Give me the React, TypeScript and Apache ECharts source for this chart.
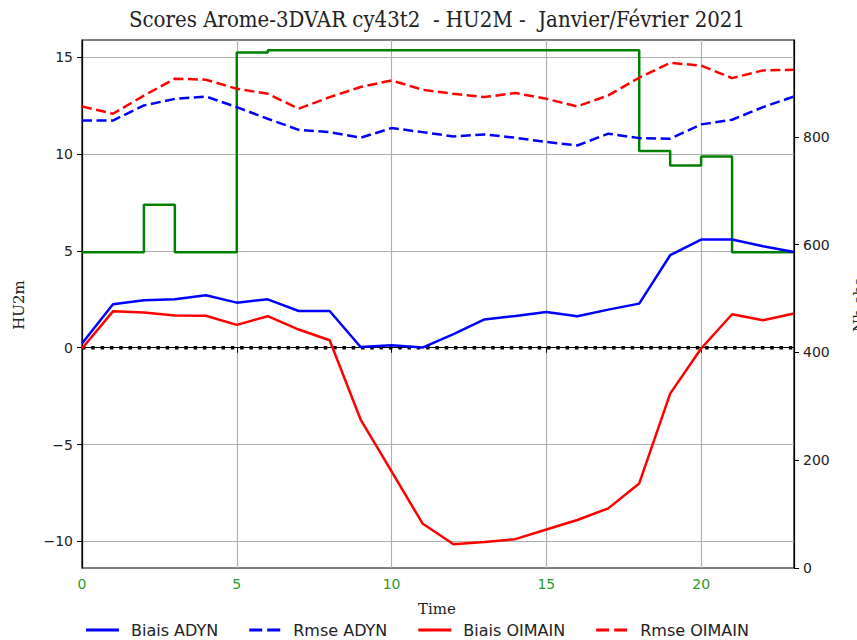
import React, { useEffect, useRef } from "react";
import * as echarts from "echarts";

const times = Array.from({ length: 24 }, (_, i) => i);
const biaisAdyn = [0.22, 2.25, 2.45, 2.5, 2.71, 2.33, 2.5, 1.9, 1.9, 0.04, 0.13, 0.01, 0.7, 1.46, 1.64, 1.85, 1.63, 1.97, 2.28, 4.78, 5.59, 5.59, 5.24, 4.95];
const rmseAdyn = [11.74, 11.74, 12.52, 12.86, 12.98, 12.43, 11.83, 11.26, 11.14, 10.85, 11.35, 11.14, 10.92, 11.02, 10.85, 10.63, 10.45, 11.06, 10.83, 10.8, 11.54, 11.78, 12.43, 12.98];
const biaisOimain = [-0.04, 1.88, 1.82, 1.66, 1.65, 1.18, 1.63, 0.94, 0.39, -3.71, -6.39, -9.08, -10.15, -10.04, -9.89, -9.39, -8.9, -8.3, -7.01, -2.37, -0.04, 1.73, 1.42, 1.77];
const rmseOimain = [12.47, 12.09, 13.03, 13.9, 13.85, 13.38, 13.12, 12.35, 12.95, 13.47, 13.81, 13.33, 13.12, 12.95, 13.16, 12.86, 12.47, 13.04, 13.95, 14.72, 14.58, 13.93, 14.33, 14.36];
const nbObs = [586, 586, 674, 586, 586, 957, 961, 961, 961, 961, 961, 961, 961, 961, 961, 961, 961, 961, 774, 747, 764, 586, 586, 586];
const zeroLine = times.map(() => 0);

const xTicks = [0, 5, 10, 15, 20];
const yTicks = [-10, -5, 0, 5, 10, 15];
const y2Ticks = [0, 200, 400, 600, 800];

const pairs = (ys: number[]) => times.map((t, i) => [t, ys[i]]);

const SOLID_ICON = "path://M0,0h33v3h-33z";
const DASH_ICON = "path://M0,0h13v3h-13z M18,0h13v3h-13z";

export default function App() {
  const ref = useRef<HTMLDivElement>(null);
  useEffect(() => {
    if (!ref.current) return;
    const chart = echarts.init(ref.current, null, { renderer: "svg" });
    const tickFont = { fontFamily: "DejaVu Sans", fontSize: 14, color: "#222" };
    const dash = [10, 4.5];
    chart.setOption({
      animation: false,
      backgroundColor: "#fff",
      grid: { left: 82, right: 63, top: 40, bottom: 72, show: true, borderColor: "#000", borderWidth: 1.2, backgroundColor: "transparent" },
      xAxis: {
        type: "value", min: 0, max: 23,
        axisLine: { show: true, lineStyle: { color: "#000", width: 1.2 } },
        axisTick: { show: true, inside: false, length: 5, customValues: xTicks, lineStyle: { color: "#000" } },
        axisLabel: { customValues: xTicks, ...tickFont, color: "#2a9a2a", margin: 9 },
        splitLine: { show: true, lineStyle: { color: "#b0b0b0", width: 1.1 } },
      },
      yAxis: [
        {
          type: "value", min: -11.38, max: 15.9,
          axisLine: { show: true, lineStyle: { color: "#000", width: 1.2 } },
          axisTick: { show: true, inside: false, length: 5, customValues: yTicks, lineStyle: { color: "#000" } },
          axisLabel: { customValues: yTicks, ...tickFont, margin: 9, formatter: (v: number) => String(v).replace("-", "\u2212") },
          splitLine: { show: true, lineStyle: { color: "#b0b0b0", width: 1.1 } },
        },
        {
          type: "value", min: 0, max: 980, position: "right",
          axisLine: { show: true, lineStyle: { color: "#000", width: 1.2 } },
          axisTick: { show: true, inside: false, length: 5, customValues: y2Ticks, lineStyle: { color: "#000" } },
          axisLabel: { customValues: y2Ticks, ...tickFont, margin: 9 },
          splitLine: { show: false },
        },
      ],
      legend: {
        left: 81, top: 617, itemWidth: 33, itemHeight: 3, itemGap: 31,
        itemStyle: { borderWidth: 0 },
        data: [
          { name: "Biais ADYN", icon: SOLID_ICON },
          { name: "Rmse ADYN", icon: DASH_ICON },
          { name: "Biais OIMAIN", icon: SOLID_ICON },
          { name: "Rmse OIMAIN", icon: DASH_ICON },
        ],
        textStyle: { fontFamily: "DejaVu Sans", fontSize: 16, color: "#222", padding: [0, 0, 0, 7] },
      },
      graphic: [
        { type: "text", x: 437, y: 19, style: { text: "Scores Arome-3DVAR cy43t2  - HU2M -  Janvier/Février 2021", fontFamily: "DejaVu Serif Condensed, DejaVu Serif", fontSize: 22, fill: "#222", textAlign: "center", textVerticalAlign: "middle" } },
        { type: "text", x: 437, y: 609, style: { text: "Time", fontFamily: "DejaVu Serif", fontSize: 15, fill: "#222", textAlign: "center", textVerticalAlign: "middle" } },
        { type: "text", x: 19, y: 305, rotation: Math.PI / 2, style: { text: "HU2m", fontFamily: "DejaVu Serif", fontSize: 15, fill: "#222", textAlign: "center", textVerticalAlign: "middle" } },
        { type: "text", x: 859, y: 305, rotation: Math.PI / 2, style: { text: "Nb obs", fontFamily: "DejaVu Serif", fontSize: 15, fill: "#222", textAlign: "center", textVerticalAlign: "middle" } },
      ],
      series: [
        { name: "zero", type: "line", data: pairs(zeroLine), showSymbol: false, symbol: "none", silent: true, lineStyle: { color: "#000", width: 3.5, type: [3.5, 5.8], cap: "butt" }, z: 1 },
        { name: "Nb obs", type: "line", yAxisIndex: 1, step: "end", data: pairs(nbObs), symbol: "none", lineStyle: { color: "#008000", width: 2.5 }, z: 2 },
        { name: "Biais ADYN", type: "line", data: pairs(biaisAdyn), symbol: "none", lineStyle: { color: "#0000ff", width: 2.5 }, itemStyle: { color: "#0000ff" }, z: 3 },
        { name: "Rmse ADYN", type: "line", data: pairs(rmseAdyn), symbol: "none", lineStyle: { color: "#0000ff", width: 2.5, type: dash }, itemStyle: { color: "#0000ff" }, z: 3 },
        { name: "Biais OIMAIN", type: "line", data: pairs(biaisOimain), symbol: "none", lineStyle: { color: "#ff0000", width: 2.5 }, itemStyle: { color: "#ff0000" }, z: 3 },
        { name: "Rmse OIMAIN", type: "line", data: pairs(rmseOimain), symbol: "none", lineStyle: { color: "#ff0000", width: 2.5, type: dash }, itemStyle: { color: "#ff0000" }, z: 3 },
      ],
    });
    return () => chart.dispose();
  }, []);
  return <div ref={ref} style={{ width: 857, height: 640, position: "absolute", left: 0, top: 0 }} />;
}
